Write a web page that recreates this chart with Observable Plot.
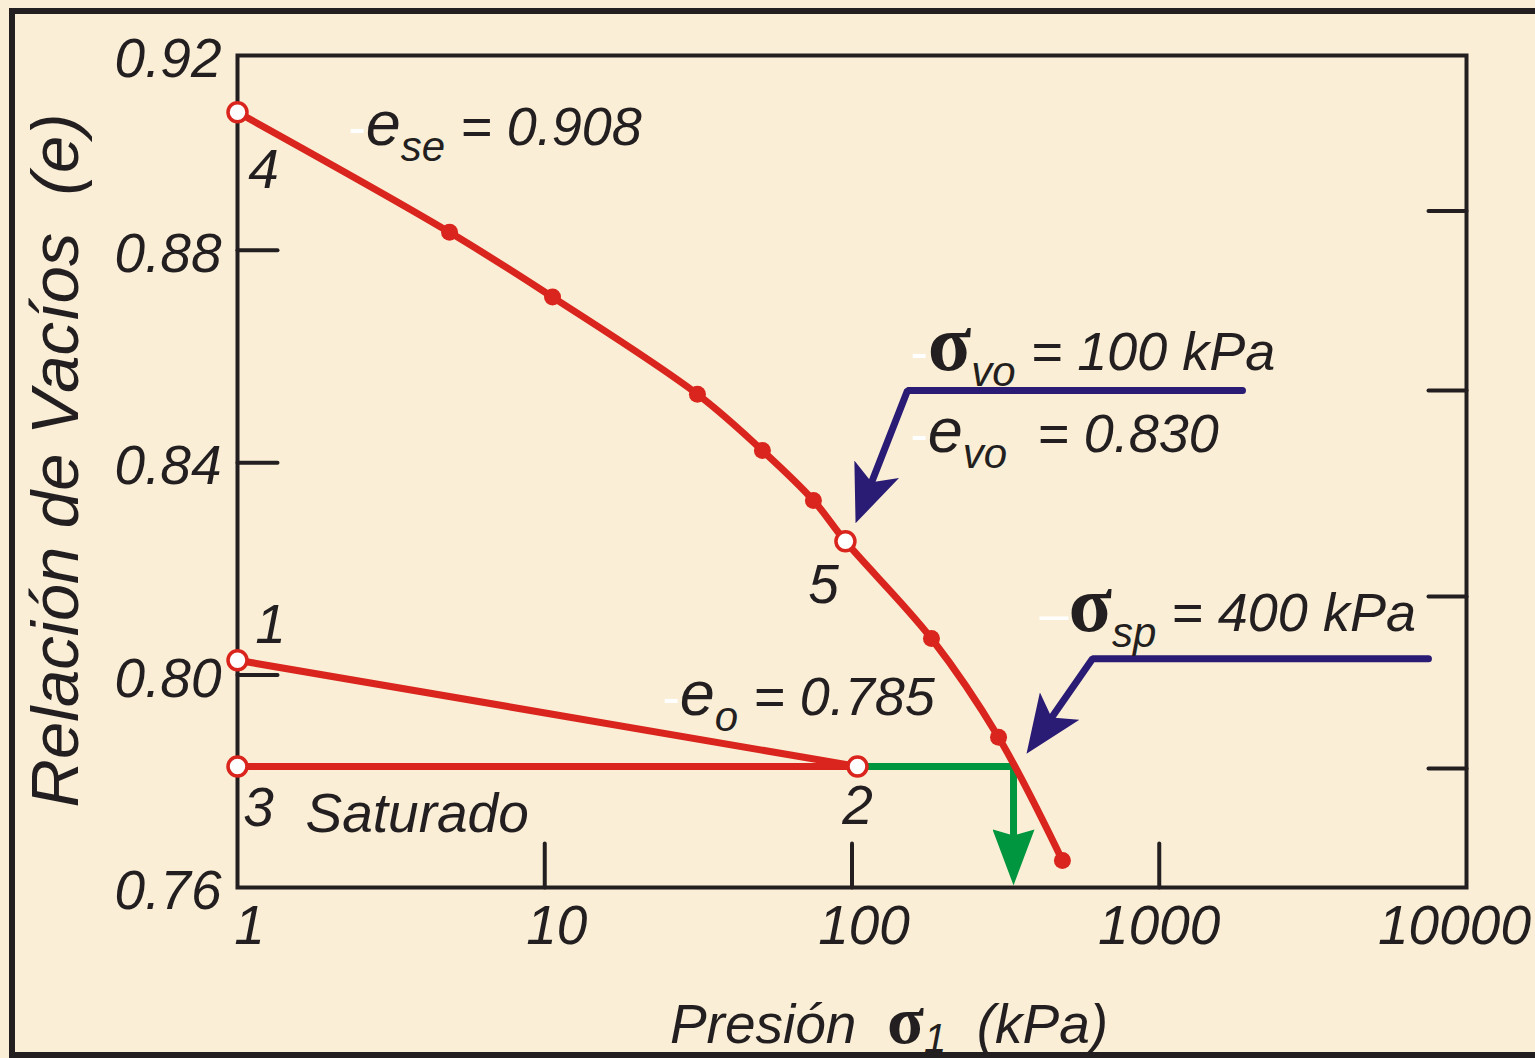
<!DOCTYPE html>
<html>
<head>
<meta charset="utf-8">
<script src="https://cdn.jsdelivr.net/npm/d3@7"></script>
<script src="https://cdn.jsdelivr.net/npm/@observablehq/plot@0.6"></script>
<style>
  html, body { margin: 0; padding: 0; background: #FAEFD6; }
  #wrap { position: relative; width: 1535px; height: 1058px; overflow: hidden; background: #FAEFD6; }
  #border { position: absolute; left: 9px; top: 8px; width: 2000px; height: 1050px;
            border: 6px solid #231F20; box-sizing: border-box; }
  #chart { position: absolute; left: 0; top: 0; }
  #chart svg text { white-space: pre; }
</style>
</head>
<body>
<div id="wrap"><div id="border"></div><div id="chart"></div></div>
<script>
// ---------- colours & fonts ----------
const ink = "#231F20", red = "#D9251D", green = "#00963F", blue = "#2A1B74";
const sans = "'Liberation Sans', Arial, Helvetica, sans-serif";
const serif = "'Liberation Serif', 'Times New Roman', serif";

// ---------- axes ----------
const xTickValuesLow = [1, 10, 100];
const xTickValuesMid = [1000];
const xTickValuesEnd = [10000];
const yTickValues = [0.76, 0.80, 0.84, 0.88, 0.92];
const xInnerTicks = [10, 100, 1000];
const yInnerTicks = [0.80, 0.84, 0.88];
const rightTicks = [0.7824, 0.8148, 0.8536, 0.8874];

// ---------- loading curve (4 -> 5 -> end) ----------
const curveSigma = [1, 4.9, 10.6, 31.4, 51.1, 74.9, 95.2, 181.4, 299.9, 484];
const curveE     = [0.9060, 0.8834, 0.8712, 0.8529, 0.8423, 0.8329, 0.8252, 0.8069, 0.7883, 0.7651];
const curveOpen  = [true, false, false, false, false, false, true, false, false, false];

// ---------- paths 1 -> 2 and 3 -> 2 ----------
const path12Sigma = [1, 104.2];
const path12E     = [0.8028, 0.7828];
const path32Sigma = [1, 104.2];
const path32E     = [0.7828, 0.7828];

// ---------- numbered states ----------
const pointNames = ["1", "2", "3"];
const pointSigma = [1, 104.2, 1];
const pointE     = [0.8028, 0.7828, 0.7828];

const labelNames = ["1", "2", "3", "4", "5"];
const labelSigma = [1.28, 104.2, 1.17, 1.215, 80.8];
const labelE     = [0.8060, 0.7719, 0.7715, 0.8917, 0.8135];

// ---------- construction lines / arrows ----------
const greenSigma = [104.2, 335.5, 335.5];
const greenE     = [0.7828, 0.7828, 0.7604];
const voArrowSigma = [1866, 151.6, 102.7];
const voArrowE     = [0.8536, 0.8536, 0.8286];
const spArrowSigma = [7519, 606.5, 369.8];
const spArrowE     = [0.8031, 0.8031, 0.7852];

// ---------- annotations ----------
const annotSigma = [2.297, 155.0, 155.0, 407.5, 24.16];
const annotE     = [0.8998, 0.8574, 0.8421, 0.8084, 0.7924];
const annotParts = [
  [["-", "dash"], ["e", "e"], ["se", "sub"], [" = 0.908", "txt"]],
  [["-", "dash"], ["σ", "sig"], ["vo", "sub"], [" = 100 kPa", "txt"]],
  [["-", "dash"], ["e", "e"], ["vo", "sub"], ["  = 0.830", "txt"]],
  [["–", "dash"], ["σ", "sig"], ["sp", "sub"], [" = 400 kPa", "txt"]],
  [["-", "dash"], ["e", "e"], ["o", "sub"], [" = 0.785", "txt"]]
];
const saturadoText = "Saturado";
const saturadoSigma = 1.665, saturadoE = 0.7705;
const xTitleParts = [["Presión  ", "tt"], ["σ", "sig2"], ["1", "sub2"], ["  (kPa)", "tt"]];
const yTitle = "Relación de Vacíos\u00A0\u00A0(e)";

const styles = {
  dash: {family: sans, style: "normal", size: 52, fill: "#FFFFFF"},
  e:    {family: sans, style: "italic", size: 63},
  sig:  {family: serif, style: "normal", weight: "bold", size: 80},
  sub:  {family: sans, style: "italic", size: 42, shift: 16},
  txt:  {family: sans, style: "italic", size: 54},
  tt:   {family: sans, style: "italic", size: 55},
  sig2: {family: serif, style: "normal", weight: "bold", size: 68},
  sub2: {family: sans, style: "italic", size: 40, shift: 9}
};

// ---------- build tables ----------
const curve = curveSigma.map((s, i) => ({s, e: curveE[i], open: curveOpen[i]}));
const path12 = path12Sigma.map((s, i) => ({s, e: path12E[i]}));
const path32 = path32Sigma.map((s, i) => ({s, e: path32E[i]}));
const points = pointNames.map((n, i) => ({n, s: pointSigma[i], e: pointE[i]}));
const labels = labelNames.map((n, i) => ({n, s: labelSigma[i], e: labelE[i]}));
const greenPath = greenSigma.map((s, i) => ({s, e: greenE[i]}));
const voPath = voArrowSigma.map((s, i) => ({s, e: voArrowE[i]}));
const spPath = spArrowSigma.map((s, i) => ({s, e: spArrowE[i]}));
const annots = annotParts.map((parts, i) => ({parts, s: annotSigma[i], e: annotE[i]}));
const joined = parts => parts.map(p => p[0]).join("");

const NS = "http://www.w3.org/2000/svg";
function arrowHead(len, half, notch) {
  return (color) => {
    const m = document.createElementNS(NS, "marker");
    m.setAttribute("viewBox", `${-len} ${-half} ${len} ${2 * half}`);
    m.setAttribute("markerWidth", len);
    m.setAttribute("markerHeight", 2 * half);
    m.setAttribute("markerUnits", "userSpaceOnUse");
    m.setAttribute("orient", "auto");
    m.setAttribute("refX", 0);
    m.setAttribute("refY", 0);
    const p = document.createElementNS(NS, "path");
    p.setAttribute("d", `M0,0L${-len},${-half}L${-len + notch},0L${-len},${half}Z`);
    p.setAttribute("fill", color);
    p.setAttribute("stroke", "none");
    m.appendChild(p);
    return m;
  };
}
const tickShape = {draw(ctx, l) { ctx.moveTo(0, 0); ctx.lineTo(0, -l); }};
const axisFont = {fontSize: 55, fontStyle: "italic"};

const plot = Plot.plot({
  width: 1535,
  height: 1058,
  marginLeft: 237,
  marginRight: 69,
  marginTop: 55,
  marginBottom: 171,
  style: {background: "transparent", fontFamily: sans, color: ink, overflow: "visible"},
  x: {type: "log", domain: [1, 10000]},
  y: {domain: [0.76, 0.9167], clamp: true},
  marks: [
    Plot.frame({stroke: ink, strokeWidth: 4}),
    Plot.vector(yInnerTicks, {y: d => d, frameAnchor: "left", length: 40, rotate: 90, anchor: "start", shape: tickShape, stroke: ink, strokeWidth: 4, fill: "none"}),
    Plot.vector(rightTicks, {y: d => d, frameAnchor: "right", length: 38, rotate: -90, anchor: "start", shape: tickShape, stroke: ink, strokeWidth: 4, fill: "none"}),
    Plot.vector(xInnerTicks, {x: d => d, frameAnchor: "bottom", length: 44, rotate: 0, anchor: "start", shape: tickShape, stroke: ink, strokeWidth: 4, fill: "none"}),
    Plot.axisX({ticks: xTickValuesLow, tickSize: 0, tickPadding: 17, dx: 12, tickFormat: d => String(d), ...axisFont, label: null}),
    Plot.axisX({ticks: xTickValuesMid, tickSize: 0, tickPadding: 17, dx: 0, tickFormat: d => String(d), ...axisFont, label: null}),
    Plot.axisX({ticks: xTickValuesEnd, tickSize: 0, tickPadding: 17, dx: -12, tickFormat: d => String(d), ...axisFont, label: null}),
    Plot.axisY({ticks: yTickValues, tickSize: 0, tickPadding: 16, dy: 4, tickFormat: d3.format(".2f"), ...axisFont, label: null}),
    // construction lines
    Plot.line(greenPath, {x: "s", y: "e", stroke: green, strokeWidth: 7, strokeLinejoin: "miter", markerEnd: arrowHead(56, 21, 6)}),
    Plot.line(voPath, {x: "s", y: "e", stroke: blue, strokeWidth: 7, strokeLinejoin: "miter", markerEnd: arrowHead(58, 24, 14)}),
    Plot.line(spPath, {x: "s", y: "e", stroke: blue, strokeWidth: 7, strokeLinejoin: "miter", markerEnd: arrowHead(58, 24, 14)}),
    // test paths
    Plot.line(path12, {x: "s", y: "e", stroke: red, strokeWidth: 7}),
    Plot.line(path32, {x: "s", y: "e", stroke: red, strokeWidth: 7}),
    Plot.line(curve, {x: "s", y: "e", stroke: red, strokeWidth: 7, curve: "catmull-rom", strokeLinecap: "round"}),
    Plot.dot(curve.filter(d => !d.open), {x: "s", y: "e", r: 8.5, fill: red}),
    Plot.dot(curve.filter(d => d.open), {x: "s", y: "e", r: 9.5, fill: "white", stroke: red, strokeWidth: 3.5}),
    Plot.dot(points, {x: "s", y: "e", r: 9.5, fill: "white", stroke: red, strokeWidth: 3.5}),
    // labels
    Plot.text(labels, {x: "s", y: "e", text: "n", fontSize: 55, fontStyle: "italic", lineAnchor: "bottom", textAnchor: "middle", fill: ink}),
    Plot.text([saturadoText], {x: () => saturadoSigma, y: () => saturadoE, text: d => d, fontSize: 55, fontStyle: "italic", lineAnchor: "bottom", textAnchor: "start", fill: ink}),
    Plot.text(annots, {x: "s", y: "e", text: d => joined(d.parts), fontSize: 54, lineAnchor: "bottom", textAnchor: "start", fill: ink}),
    // axis titles
    Plot.text([joined(xTitleParts)], {frameAnchor: "bottom", text: d => d, dx: 37, dy: 155, lineAnchor: "bottom", textAnchor: "middle", fontSize: 55, fill: ink}),
    Plot.text([yTitle], {frameAnchor: "left", text: d => d, rotate: -90, dx: -160, dy: -11, lineAnchor: "bottom", textAnchor: "middle", fontSize: 67, fontStyle: "italic", fill: ink})
  ]
});

document.getElementById("chart").appendChild(plot);

// rich text: subscripts and sigma glyphs
const richMap = new Map();
annots.forEach(d => richMap.set(joined(d.parts), d.parts));
richMap.set(joined(xTitleParts), xTitleParts);
plot.querySelectorAll("text").forEach(t => {
  const parts = richMap.get(t.textContent);
  if (!parts) return;
  t.textContent = "";
  let shift = 0;
  for (const [str, key] of parts) {
    const st = styles[key];
    const ts = document.createElementNS(NS, "tspan");
    ts.textContent = str;
    ts.setAttribute("font-family", st.family);
    ts.setAttribute("font-size", st.size);
    ts.setAttribute("font-style", st.style);
    if (st.weight) ts.setAttribute("font-weight", st.weight);
    if (st.fill) ts.setAttribute("fill", st.fill);
    const target = st.shift || 0;
    if (target !== shift) { ts.setAttribute("dy", target - shift); shift = target; }
    t.appendChild(ts);
  }
});

// stop the arrow shafts short of the arrow tips
plot.querySelectorAll("path[marker-end]").forEach(p => {
  const L = p.getTotalLength();
  p.setAttribute("stroke-dasharray", `${Math.max(0, L - 24)} ${L + 100}`);
});
</script>
</body>
</html>
